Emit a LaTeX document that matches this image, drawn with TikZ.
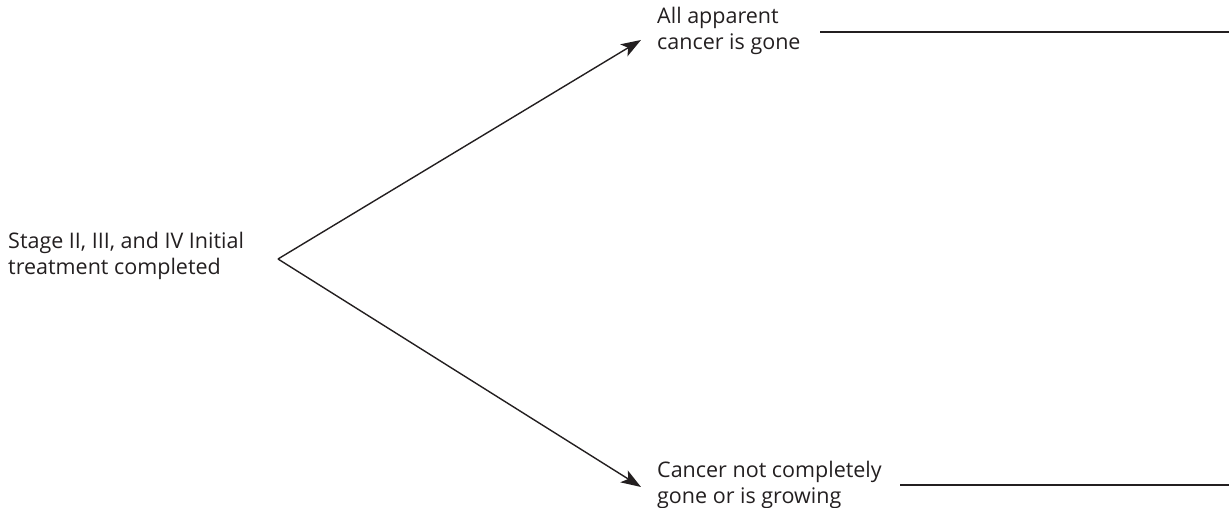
\documentclass[tikz,border=0pt]{standalone}
\usepackage{fontspec}
\setmainfont{Open Sans}
\usetikzlibrary{arrows.meta}
\definecolor{ink}{HTML}{231F20}
\begin{document}
\begin{tikzpicture}[x=1pt,y=1pt,
  lbl/.style={inner sep=0pt,anchor=north west,align=left,text=ink,font=\fontsize{21.5}{26}\selectfont},
  arr/.style={draw=ink,line width=1.4pt,-{Stealth[length=20pt,width=14pt,inset=5pt]}},
  blank/.style={draw=ink,line width=2pt}]
\useasboundingbox (0,0) rectangle (1229,508);
\node[lbl] (start) at (8,508-232) {Stage II, III, and IV Initial\\treatment completed};
\node[lbl] (top) at (657,508-7) {All apparent\\cancer is gone};
\node[lbl] (bot) at (657,508-461) {Cancer not completely\\gone or is growing};
\coordinate (v) at (278,508-259);
\coordinate (t1) at (641,508-40);
\coordinate (t2) at (641,508-487);
\draw[arr] (v) -- (t1);
\draw[arr] (v) -- (t2);
\coordinate (a1) at (820,508-32);
\coordinate (a2) at (1229,508-32);
\coordinate (b1) at (900,508-485);
\coordinate (b2) at (1229,508-485);
\draw[blank] (a1) -- (a2);
\draw[blank] (b1) -- (b2);
\end{tikzpicture}
\end{document}
